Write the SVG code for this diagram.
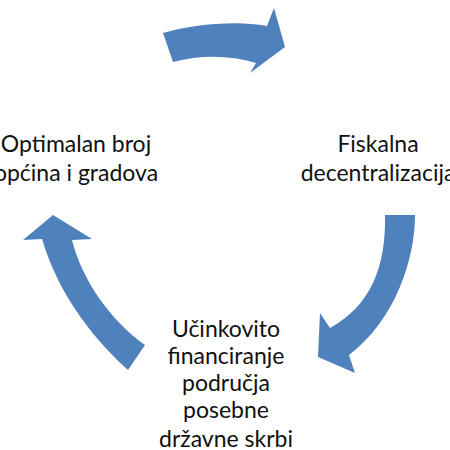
<svg xmlns="http://www.w3.org/2000/svg" width="450" height="450" viewBox="0 0 450 450">
<style>
.arrow{fill:#4F81BD;stroke:none}
.lbl{font-family:Lato,"Open Sans","Liberation Sans",sans-serif;font-size:23px;fill:#111111;text-anchor:middle}
</style>
<rect width="450" height="450" fill="#ffffff"/>
<g id="connectors">
<path class="arrow" d="M163,33 C190,25 235,20 267,26 L274,8 L285,47 L250,73 L256,63 C230,55 200,55 173,62 Z"/>
<path class="arrow" d="M385,215 L415,215 C415,260 395,320 349,355 L355,373 L318,357 L320,313 L330,328 C372,305 386,265 385,215 Z"/>
<path class="arrow" d="M145,345 L128,370 C100,345 60,300 42,239 L23,240 L53,215 L92,239 L72,240 C82,280 110,320 145,345 Z"/>
</g>
<g id="node-left">
<text class="lbl" x="76" y="152">Optimalan broj</text>
<text class="lbl" x="76" y="181">općina i gradova</text>
</g>
<g id="node-right">
<text class="lbl" x="378" y="152">Fiskalna</text>
<text class="lbl" x="378" y="181">decentralizacija</text>
</g>
<g id="node-bottom">
<text class="lbl" x="226" y="337">Učinkovito</text>
<text class="lbl" x="226" y="364">financiranje</text>
<text class="lbl" x="226" y="391">područja</text>
<text class="lbl" x="226" y="418">posebne</text>
<text class="lbl" x="226" y="447">državne skrbi</text>
</g>
</svg>
